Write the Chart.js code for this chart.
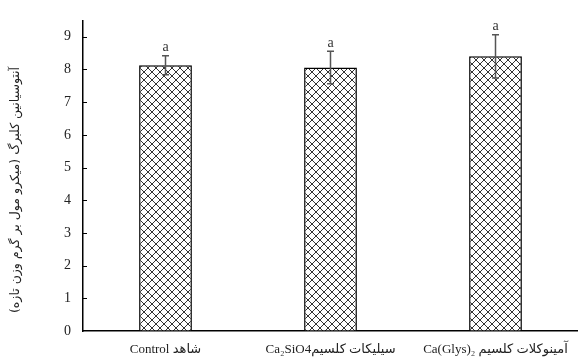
<!DOCTYPE html>
<html>
<head>
<meta charset="utf-8">
<script src="https://cdn.jsdelivr.net/npm/chart.js@4"></script>
<style>
  html, body { margin: 0; padding: 0; background: #fff; }
  #wrap { width: 578px; height: 358px; }
</style>
</head>
<body>
<div id="wrap"><canvas id="chart"></canvas></div>
<script>
const categories = ['Control شاهد', 'Ca₂SiO4سیلیکات کلسیم', 'Ca(Glys)₂ آمینوکلات کلسیم'];
const values = [8.13, 8.06, 8.40];
const errors = [0.29, 0.50, 0.66];
const letters = ['a', 'a', 'a'];
const yTitle = 'آنتوسیانین کلبرگ (میکرو مول بر گرم وزن تازه)';

const serif = "'Liberation Serif', 'DejaVu Sans', serif";

// crosshatch fill like the original
function makePattern() {
    const c = document.createElement('canvas');
    c.width = 8;
    c.height = 8;
    const g = c.getContext('2d');
    g.fillStyle = '#fff';
    g.fillRect(0, 0, 8, 8);
    g.strokeStyle = '#333';
    g.lineWidth = 1;
    g.beginPath();
    g.moveTo(0, 0); g.lineTo(8, 8);
    g.moveTo(8, 0); g.lineTo(0, 8);
    g.stroke();
    return g.createPattern(c, 'repeat');
}

// error bars + letters
const errorBars = {
    id: 'errorBars',
    afterDatasetsDraw(chart) {
        const ctx = chart.ctx;
        const y = chart.scales.y;
        const meta = chart.getDatasetMeta(0);
        ctx.save();
        meta.data.forEach((bar, i) => {
            const top = y.getPixelForValue(values[i] + errors[i]);
            const bot = y.getPixelForValue(values[i] - errors[i]);
            ctx.strokeStyle = '#555';
            ctx.lineWidth = 1.5;
            ctx.beginPath();
            ctx.moveTo(bar.x, top); ctx.lineTo(bar.x, bot);
            ctx.moveTo(bar.x - 3.5, top); ctx.lineTo(bar.x + 3.5, top);
            ctx.moveTo(bar.x - 3.5, bot); ctx.lineTo(bar.x + 3.5, bot);
            ctx.stroke();
            ctx.fillStyle = '#333';
            ctx.font = '14px ' + serif;
            ctx.textAlign = 'center';
            ctx.textBaseline = 'bottom';
            ctx.fillText(letters[i], bar.x, top - 1);
        });
        ctx.restore();
    }
};

// inward tick marks on the y axis and rotated title
const yDecor = {
    id: 'yDecor',
    afterDraw(chart) {
        const ctx = chart.ctx;
        const y = chart.scales.y;
        const left = chart.chartArea.left;
        ctx.save();
        ctx.strokeStyle = '#000';
        ctx.lineWidth = 1;
        y.ticks.forEach(t => {
            if (t.value === 0) return;
            const py = Math.round(y.getPixelForValue(t.value)) + 0.5;
            ctx.beginPath();
            ctx.moveTo(left, py);
            ctx.lineTo(left + 4, py);
            ctx.stroke();
        });
        ctx.translate(16, 190);
        ctx.rotate(-Math.PI / 2);
        ctx.fillStyle = '#222';
        ctx.font = "12.5px 'DejaVu Sans', sans-serif";
        ctx.textAlign = 'center';
        ctx.textBaseline = 'middle';
        ctx.fillText(yTitle, 0, 0);
        ctx.restore();
    }
};

new Chart(document.getElementById('chart'), {
    type: 'bar',
    data: {
        labels: categories,
        datasets: [{
            data: values,
            backgroundColor: makePattern(),
            borderColor: '#000',
            borderWidth: 1.5,
            barPercentage: 0.32,
            categoryPercentage: 1
        }]
    },
    options: {
        responsive: true,
        maintainAspectRatio: false,
        animation: false,
        layout: { padding: { top: 12, left: 0, right: 0, bottom: 0 } },
        scales: {
            x: {
                afterFit(scale) { scale.height = 27; },
                grid: { display: false },
                border: { color: '#000', width: 1.5 },
                ticks: {
                    color: '#222',
                    padding: 4,
                    maxRotation: 0,
                    font: { family: serif, size: 13, lineHeight: 1 }
                }
            },
            y: {
                min: 0,
                max: 9.5,
                afterFit(scale) { scale.width = 83; },
                afterBuildTicks(scale) {
                    scale.ticks = scale.ticks.filter(t => Number.isInteger(t.value));
                },
                grid: { drawOnChartArea: false, drawTicks: false },
                border: { color: '#000', width: 1.5 },
                ticks: {
                    stepSize: 1,
                    color: '#222',
                    padding: 12,
                    font: { family: serif, size: 14 }
                }
            }
        },
        plugins: {
            legend: { display: false },
            tooltip: { enabled: false }
        }
    },
    plugins: [errorBars, yDecor]
});
</script>
</body>
</html>
